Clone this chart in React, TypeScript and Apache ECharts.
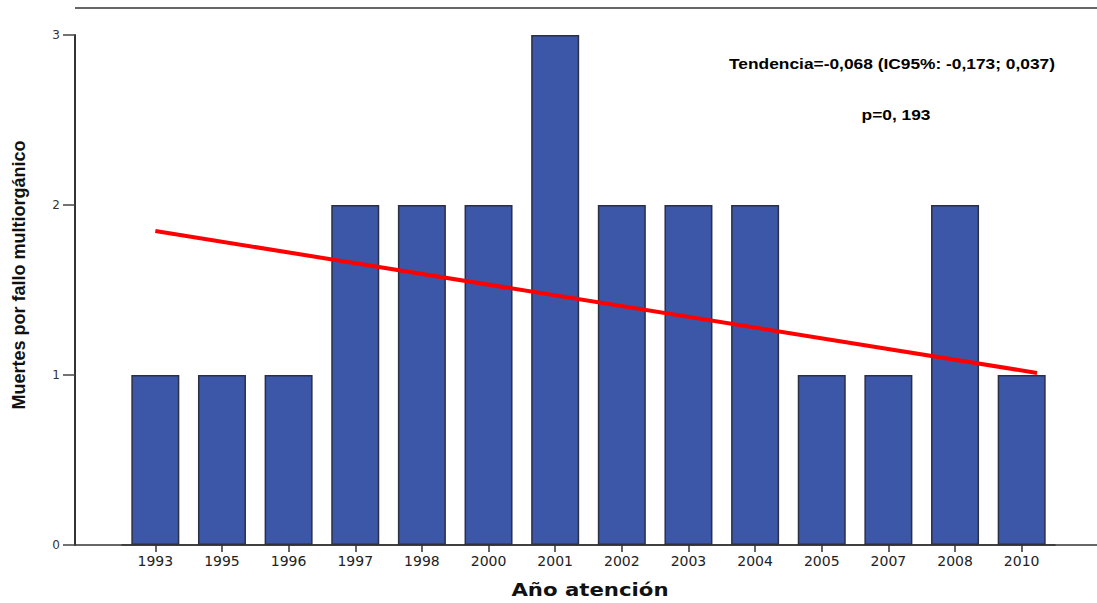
import React, { useEffect, useRef } from "react";
import * as echarts from "echarts";

const years = ["1993", "1995", "1996", "1997", "1998", "2000", "2001", "2002", "2003", "2004", "2005", "2007", "2008", "2010"];
const deaths = [1, 1, 1, 2, 2, 2, 3, 2, 2, 2, 1, 1, 2, 1];
const trendX = [0, 13.23];
const trendY = [1.847, 1.012];
const yTicks = [0, 1, 2, 3];
const xTitle = "Año atención";
const yTitle = "Muertes por fallo multiorgánico";
const trendText = "Tendencia=-0,068 (IC95%: -0,173; 0,037)";
const pText = "p=0, 193";

export default function App() {
  const ref = useRef<HTMLDivElement>(null);
  useEffect(() => {
    if (!ref.current) return;
    const chart = echarts.init(ref.current, undefined, { renderer: "svg" });
    chart.setOption({
      animation: false,
      backgroundColor: "#ffffff",
      grid: { left: 122, right: 42, top: 35, bottom: 58 },
      xAxis: [
        {
          type: "category",
          data: years,
          boundaryGap: true,
          axisLine: { show: true, onZero: false, lineStyle: { color: "#333", width: 1.5 } },
          axisTick: { show: true, alignWithLabel: true, length: 7, lineStyle: { color: "#333", width: 1.5 } },
          axisLabel: { color: "#222", fontSize: 14, margin: 9, fontFamily: "DejaVu Sans, Verdana, sans-serif" },
        },
        { type: "value", min: -0.5, max: 13.5, show: false },
      ],
      yAxis: {
        type: "value",
        min: yTicks[0],
        max: yTicks[yTicks.length - 1],
        interval: 1,
        offset: 47,
        splitLine: { show: false },
        axisLine: { show: true, onZero: false, lineStyle: { color: "#333", width: 2 } },
        axisTick: { show: true, length: 12, lineStyle: { color: "#444", width: 1.5 } },
        axisLabel: { color: "#333", fontSize: 12, margin: 15, fontFamily: "DejaVu Sans, Verdana, sans-serif" },
        name: yTitle,
        nameLocation: "middle",
        nameGap: 47,
        nameRotate: 90,
        nameTextStyle: { fontSize: 18, fontWeight: "bold", color: "#111", padding: [0, 0, 0, 30], fontFamily: "Liberation Sans Narrow, Arial Narrow, sans-serif" },
      },
      graphic: [
        { type: "line", shape: { x1: 75, y1: 8, x2: 1097, y2: 8 }, style: { stroke: "#666", lineWidth: 2 }, z: 10 },
        { type: "line", shape: { x1: 75, y1: 545, x2: 1097, y2: 545 }, style: { stroke: "#333", lineWidth: 1.5 }, z: 10 },
        {
          type: "text",
          x: 590,
          y: 590,
          scaleX: 1.25,
          style: { text: xTitle, fontSize: 17, fontWeight: "bold", fill: "#111", align: "center", verticalAlign: "middle", fontFamily: "DejaVu Sans, Verdana, sans-serif" },
          z: 10,
        },
        {
          type: "text",
          x: 892,
          y: 64,
          scaleX: 1.24,
          style: { text: trendText, fontSize: 14, fontWeight: "bold", fill: "#000", align: "center", verticalAlign: "middle", fontFamily: "Liberation Sans, Arial, sans-serif" },
          z: 10,
        },
        {
          type: "text",
          x: 896,
          y: 115,
          scaleX: 1.24,
          style: { text: pText, fontSize: 14, fontWeight: "bold", fill: "#000", align: "center", verticalAlign: "middle", fontFamily: "Liberation Sans, Arial, sans-serif" },
          z: 10,
        },
      ],
      series: [
        {
          type: "bar",
          data: deaths,
          barWidth: 48,
          itemStyle: { color: "#3c56a8", borderColor: "#2b2f45", borderWidth: 1.5 },
        },
        {
          type: "line",
          xAxisIndex: 1,
          data: trendX.map((x, i) => [x, trendY[i]]),
          symbol: "none",
          lineStyle: { color: "#ff0000", width: 4 },
          z: 5,
        },
      ],
    });
    return () => chart.dispose();
  }, []);
  return <div ref={ref} style={{ width: 1097, height: 603, position: "absolute", left: 0, top: 0 }} />;
}
